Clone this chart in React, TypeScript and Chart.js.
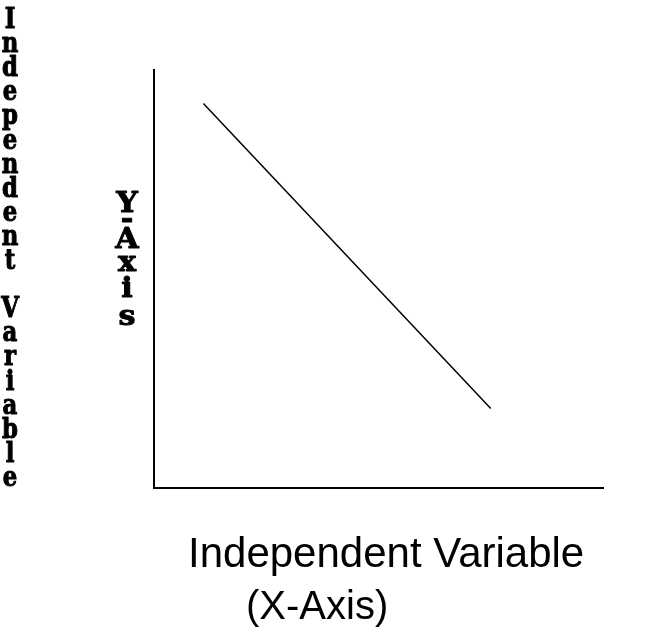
import React, { useEffect, useRef } from "react";
import { Chart, registerables } from "chart.js";

Chart.register(...registerables);

// ---- data ----
const xValues = [1.1, 7.5];
const yValues = [9.2, 1.9];
const leftLabel = "Independent Variable";
const yAxisLabel = "Y-Axis";
const xLabelLines = ["Independent Variable", "(X-Axis)"];

const W = 647;
const H = 642;

function drawChar(ctx: CanvasRenderingContext2D, ch: string, x: number, y: number, sx: number, sy: number) {
  ctx.save();
  ctx.translate(x, y);
  ctx.scale(sx, sy);
  ctx.fillText(ch, 0, 0);
  ctx.strokeText(ch, 0, 0);
  ctx.restore();
}

const labelsPlugin = {
  id: "labelsPlugin",
  afterDraw(chart: any) {
    const ctx: CanvasRenderingContext2D = chart.ctx;
    ctx.save();
    ctx.fillStyle = "#000";
    ctx.strokeStyle = "#000";
    ctx.lineWidth = 0.9;
    ctx.lineJoin = "round";
    ctx.textAlign = "center";
    ctx.textBaseline = "alphabetic";
    ctx.font = 'bold 24px "DejaVu Serif", serif';
    for (let i = 0; i < leftLabel.length; i++) {
      if (leftLabel[i] === " ") continue;
      drawChar(ctx, leftLabel[i], 10, 28 + i * 24.1, 0.95, 1.15);
    }
    ctx.font = 'bold 27px "DejaVu Serif", serif';
    const yBase = [212, 228, 248, 271, 297, 325];
    for (let i = 0; i < yAxisLabel.length; i++) {
      drawChar(ctx, yAxisLabel[i], 127, yBase[i], 1.12, 1.05);
    }
    ctx.textAlign = "left";
    ctx.font = '42px "Liberation Sans", Arial, sans-serif';
    ctx.fillText(xLabelLines[0], 188, 567);
    ctx.font = '40px "Liberation Sans", Arial, sans-serif';
    ctx.fillText(xLabelLines[1], 246, 619);
    ctx.restore();
  },
};

export default function App() {
  const ref = useRef<HTMLCanvasElement | null>(null);
  useEffect(() => {
    if (!ref.current) return;
    const chart = new Chart(ref.current, {
      type: "line",
      data: {
        datasets: [
          {
            data: xValues.map((x, i) => ({ x, y: yValues[i] })),
            borderColor: "#000",
            borderWidth: 1.5,
            pointRadius: 0,
            fill: false,
          },
        ],
      },
      options: {
        responsive: false,
        animation: false,
        layout: { padding: { left: 154, top: 70, right: 44, bottom: 154 } },
        plugins: { legend: { display: false }, tooltip: { enabled: false } },
        scales: {
          x: {
            type: "linear",
            min: 0,
            max: 10,
            grid: { display: false, drawTicks: false },
            ticks: { display: false },
            border: { display: true, color: "#000", width: 2 },
          },
          y: {
            type: "linear",
            min: 0,
            max: 10,
            grid: { display: false, drawTicks: false },
            ticks: { display: false },
            border: { display: true, color: "#000", width: 2 },
          },
        },
      },
      plugins: [labelsPlugin],
    });
    return () => chart.destroy();
  }, []);
  return (
    <div style={{ position: "absolute", left: 0, top: 0, width: W, height: H, background: "#fff" }}>
      <canvas ref={ref} width={W} height={H} style={{ display: "block" }} />
    </div>
  );
}
